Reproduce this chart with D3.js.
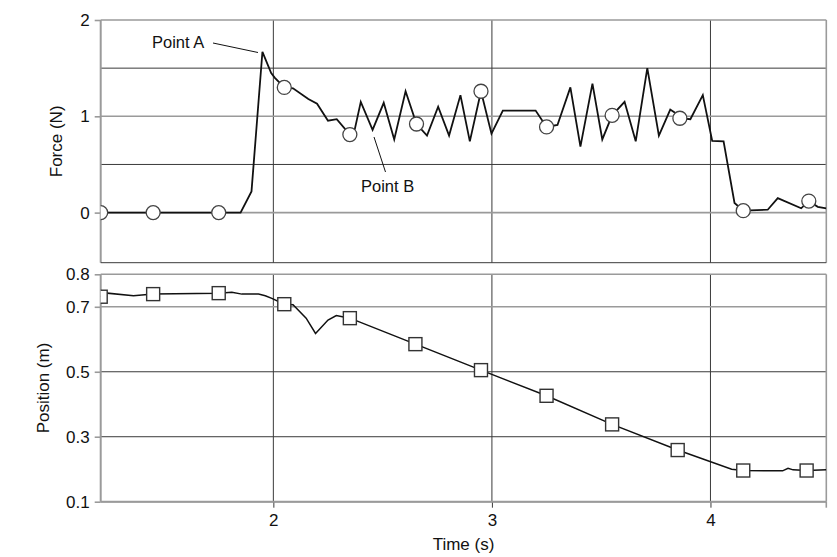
<!DOCTYPE html>
<html>
<head>
<meta charset="utf-8">
<script src="https://cdn.jsdelivr.net/npm/d3@7"></script>
<style>
  body { margin: 0; background: #fff; }
  text { font-family: "Liberation Sans", Arial, Helvetica, sans-serif; fill: #111; }
</style>
</head>
<body>
<svg id="chart" width="837" height="557"></svg>
<script>
// force trace (s, N)
var forceT = [1.21, 1.45, 1.75, 1.85, 1.90, 1.95, 1.99, 2.007, 2.05, 2.09, 2.16, 2.20, 2.25, 2.29, 2.35, 2.373,
  2.40, 2.454, 2.505, 2.553, 2.605, 2.655, 2.703, 2.754, 2.804, 2.856, 2.899, 2.95, 2.998, 3.05, 3.20, 3.25,
  3.30, 3.359, 3.405, 3.46, 3.505, 3.55, 3.607, 3.658, 3.711, 3.764, 3.816, 3.836, 3.86, 3.908, 3.965, 4.008,
  4.06, 4.11, 4.15, 4.262, 4.308, 4.415, 4.45, 4.491, 4.53]
var forceF = [0, 0, 0, 0, 0.22, 1.67, 1.45, 1.40, 1.30, 1.29, 1.18, 1.13, 0.955, 0.97, 0.81, 0.87,
  1.15, 0.86, 1.14, 0.76, 1.26, 0.92, 0.80, 1.10, 0.80, 1.22, 0.74, 1.26, 0.82, 1.06, 1.06, 0.89,
  0.91, 1.30, 0.685, 1.34, 0.76, 1.01, 1.15, 0.74, 1.50, 0.80, 1.07, 1.04, 0.98, 0.97, 1.22, 0.745,
  0.74, 0.10, 0.02, 0.03, 0.15, 0.045, 0.12, 0.06, 0.045]
var forceMarkT = [1.21, 1.45, 1.75, 2.05, 2.35, 2.655, 2.95, 3.25, 3.55, 3.86, 4.15, 4.45]
var forceMarkF = [0, 0, 0, 1.30, 0.81, 0.92, 1.26, 0.89, 1.01, 0.98, 0.02, 0.12]

// position trace (s, m)
var posT = [1.21, 1.24, 1.36, 1.45, 1.75, 1.81, 1.856, 1.932, 1.963, 1.993, 2.05, 2.09, 2.15, 2.193, 2.25, 2.288,
  2.35, 2.65, 2.95, 3.25, 3.55, 3.85, 4.097, 4.15, 4.33, 4.355, 4.378, 4.44, 4.53]
var posP = [0.731, 0.742, 0.734, 0.739, 0.742, 0.745, 0.739, 0.739, 0.734, 0.726, 0.708, 0.706, 0.665, 0.618, 0.659, 0.673,
  0.665, 0.585, 0.505, 0.426, 0.338, 0.259, 0.20, 0.196, 0.195, 0.203, 0.198, 0.196, 0.198]
var posMarkT = [1.21, 1.45, 1.75, 2.05, 2.35, 2.65, 2.95, 3.25, 3.55, 3.85, 4.15, 4.44]
var posMarkP = [0.731, 0.739, 0.742, 0.708, 0.665, 0.585, 0.505, 0.426, 0.338, 0.259, 0.196, 0.196]

var timeTicks = [2, 3, 4]
var forceTicks = [0, 1, 2]
var forceMinor = [0.5, 1.5]
var posTicks = [0.1, 0.3, 0.5, 0.7, 0.8]

var left = 100.7, right = 826.3
var top1 = 20, bot1 = 262.7
var top2 = 274.3, bot2 = 501.7

var svg = d3.select("#chart")

var x = d3.scaleLinear().domain([1.21, 4.53]).range([left, right])
var yF = d3.scaleLinear().domain([-0.52, 2]).range([bot1, top1])
var yP = d3.scaleLinear().domain([0.1, 0.8]).range([bot2, top2])

var dark = "#3a3a3a", grey = "#9a9a9a"

var defs = svg.append("defs")
defs.append("clipPath").attr("id", "clip1").append("rect")
  .attr("x", left).attr("y", top1 - 10).attr("width", right - left).attr("height", bot1 - top1 + 10)
defs.append("clipPath").attr("id", "clip2").append("rect")
  .attr("x", left).attr("y", top2).attr("width", right - left).attr("height", bot2 - top2)

function panel(y, top, bot, minor, major, ticks) {
  var g = svg.append("g")
  // minor grid
  g.selectAll(".minor").data(minor).enter().append("line")
    .attr("x1", left).attr("x2", right)
    .attr("y1", function(d){ return y(d) }).attr("y2", function(d){ return y(d) })
    .attr("stroke", dark).attr("stroke-width", 1)
  // vertical grid
  g.selectAll(".vg").data(timeTicks).enter().append("line")
    .attr("x1", function(d){ return x(d) }).attr("x2", function(d){ return x(d) })
    .attr("y1", top).attr("y2", bot)
    .attr("stroke", dark).attr("stroke-width", 1)
  // major grid
  g.selectAll(".major").data(major).enter().append("line")
    .attr("x1", left).attr("x2", right)
    .attr("y1", function(d){ return y(d) }).attr("y2", function(d){ return y(d) })
    .attr("stroke", grey).attr("stroke-width", 1.6)
  // frame
  g.append("line").attr("x1", right).attr("x2", right).attr("y1", top).attr("y2", bot)
    .attr("stroke", grey).attr("stroke-width", 1.6)
  g.append("line").attr("x1", left).attr("x2", left).attr("y1", top).attr("y2", bot)
    .attr("stroke", grey).attr("stroke-width", 2)
  // y axis ticks + labels
  var ax = d3.axisLeft(y).tickValues(ticks)
    .tickSize(6).tickPadding(5).tickFormat(d3.format("~g"))
  var a = svg.append("g").attr("transform", "translate(" + left + ",0)").call(ax)
  a.select(".domain").remove()
  a.selectAll(".tick line").attr("stroke", grey).attr("stroke-width", 1.6)
  a.selectAll("text").style("font-size", "17px").attr("fill", "#111")
  return g
}

// top panel
var g1 = panel(yF, top1, bot1, forceMinor, forceTicks, forceTicks)
g1.append("line").attr("x1", left).attr("x2", right).attr("y1", bot1).attr("y2", bot1)
  .attr("stroke", dark).attr("stroke-width", 1)

var forceData = forceT.map(function(t, i){ return [t, forceF[i]] })
var lineF = d3.line().x(function(d){ return x(d[0]) }).y(function(d){ return yF(d[1]) })
svg.append("path").datum(forceData).attr("d", lineF)
  .attr("fill", "none").attr("stroke", "#111").attr("stroke-width", 1.8)
  .attr("clip-path", "url(#clip1)")

svg.append("g").attr("clip-path", "url(#clip1)")
  .selectAll("circle").data(forceMarkT).enter().append("circle")
  .attr("cx", function(d){ return x(d) })
  .attr("cy", function(d, i){ return yF(forceMarkF[i]) })
  .attr("r", 7).attr("fill", "#fff").attr("stroke", "#444").attr("stroke-width", 1.3)

// annotations
svg.append("text").attr("x", 152).attr("y", 48).style("font-size", "16.5px").text("Point A")
svg.append("line").attr("x1", 213).attr("y1", 43).attr("x2", 258).attr("y2", 52.5)
  .attr("stroke", "#111").attr("stroke-width", 1)
svg.append("text").attr("x", 361).attr("y", 192).style("font-size", "16.5px").text("Point B")
svg.append("line").attr("x1", 385.5).attr("y1", 172).attr("x2", 374).attr("y2", 137)
  .attr("stroke", "#111").attr("stroke-width", 1)

// bottom panel
var g2 = panel(yP, top2, bot2, [0.3, 0.5], [0.1, 0.7, 0.8], posTicks)

var posData = posT.map(function(t, i){ return [t, posP[i]] })
var lineP = d3.line().x(function(d){ return x(d[0]) }).y(function(d){ return yP(d[1]) })
svg.append("path").datum(posData).attr("d", lineP)
  .attr("fill", "none").attr("stroke", "#111").attr("stroke-width", 1.5)
  .attr("clip-path", "url(#clip2)")

var sq = 13
svg.append("g").attr("clip-path", "url(#clip2)")
  .selectAll("rect").data(posMarkT).enter().append("rect")
  .attr("x", function(d){ return x(d) - sq / 2 })
  .attr("y", function(d, i){ return yP(posMarkP[i]) - sq / 2 })
  .attr("width", sq).attr("height", sq)
  .attr("fill", "#fff").attr("stroke", "#333").attr("stroke-width", 1.4)

// x axis
var xa = svg.append("g").attr("transform", "translate(0," + bot2 + ")")
  .call(d3.axisBottom(x).tickValues(timeTicks).tickSize(6).tickPadding(6).tickFormat(d3.format("d")))
xa.select(".domain").remove()
xa.selectAll(".tick line").attr("stroke", dark)
xa.selectAll("text").style("font-size", "17px").attr("fill", "#111")
svg.append("line").attr("x1", left).attr("x2", right).attr("y1", bot2).attr("y2", bot2)
  .attr("stroke", grey).attr("stroke-width", 2)
svg.append("line").attr("x1", right).attr("x2", right).attr("y1", bot2).attr("y2", bot2 + 6)
  .attr("stroke", grey).attr("stroke-width", 1.6)

// axis titles
svg.append("text").attr("x", (left + right) / 2).attr("y", 550).attr("text-anchor", "middle")
  .style("font-size", "17px").text("Time (s)")
svg.append("text").attr("transform", "translate(62," + (top1 + bot1) / 2 + ") rotate(-90)")
  .attr("text-anchor", "middle").style("font-size", "17px").text("Force (N)")
svg.append("text").attr("transform", "translate(48.5," + (top2 + bot2) / 2 + ") rotate(-90)")
  .attr("text-anchor", "middle").style("font-size", "17px").text("Position (m)")
</script>
</body>
</html>
